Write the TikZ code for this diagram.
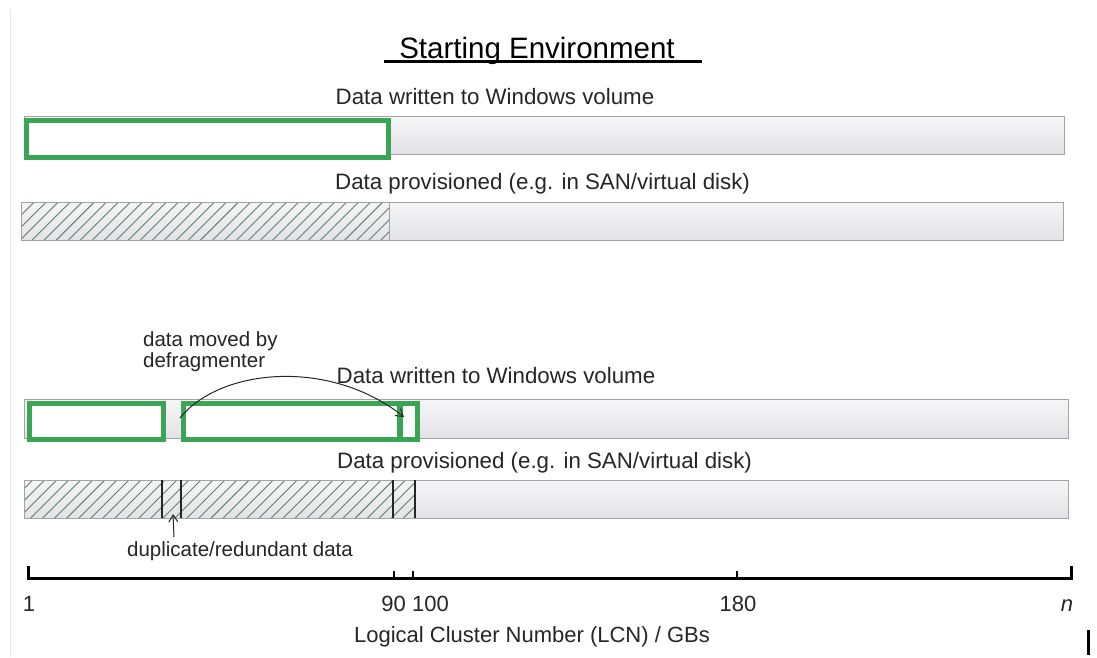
\documentclass[tikz,border=0pt]{standalone}
\usepackage{fontspec}
\setmainfont{Liberation Sans}
\usetikzlibrary{patterns.meta,arrows.meta}
\definecolor{grn}{HTML}{3AA655}
\definecolor{barfill}{HTML}{ECEBEF}
\definecolor{barline}{HTML}{A3A3A6}
\definecolor{hatch}{HTML}{5E8069}
\tikzset{
  bar/.style={draw=barline, line width=1.2pt, top color=barfill!50, bottom color=barfill!96!black, rectangle, inner sep=0pt, anchor=north west},
  greenbox/.style={draw=grn, line width=5.5pt, rectangle, inner sep=0pt, anchor=north west, fill=white},
  hatchbox/.style={draw=barline, line width=1pt, rectangle, inner sep=0pt, anchor=north west, fill=white,
     pattern={Lines[angle=45,distance=8.5pt,line width=0.9pt]}, pattern color=hatch},
  divider/.style={draw=black!85, line width=1.4pt},
  lbl/.style={font=\fontsize{22.3}{25}\selectfont, text=black!85, inner sep=0pt},
  small/.style={font=\fontsize{20.5}{23}\selectfont, text=black!85, inner sep=0pt},
  num/.style={font=\fontsize{22}{25}\selectfont, text=black!85, inner sep=0pt},
  axis/.style={line width=3pt, black},
  tickmark/.style={line width=2pt, black},
  barb/.style={-{Straight Barb[length=7pt,width=9pt]}, line width=1pt, black!85}
}
\begin{document}
\begin{tikzpicture}[x=1pt,y=-1pt]
\useasboundingbox (0,0) rectangle (1097,657);
\fill[white] (0,0) rectangle (1097,657);
% faint edge line
\draw[black!10, line width=1pt] (10,10) -- (10,657);

% title
\node[font=\fontsize{29.5}{32}\selectfont, inner sep=0pt, anchor=base] (title) at (537,58) {Starting Environment};
\draw[line width=3pt] (384,61) -- (702,61);

% ---- top section ----
\node[lbl, anchor=base] (l1) at (495,104) {Data written to Windows volume};
\node[bar, minimum width=1040pt, minimum height=38pt] (b1) at (24,116) {};
\node[greenbox, minimum width=362pt, minimum height=37pt] (g1) at (23.5,117.5) {};

\node[lbl, anchor=base west] (l2) at (335,189) {Data provisioned (e.g. in SAN/virtual disk)};
\node[bar, minimum width=1042pt, minimum height=38pt] (b2) at (21,202) {};
\node[hatchbox, minimum width=368pt, minimum height=38pt] (h1) at (21,202) {};

% ---- bottom section ----
\node[small, align=left, anchor=north west] (mv) at (143,331) {data moved by\\[-2pt]defragmenter};
\node[lbl, anchor=base] (l3) at (496,383) {Data written to Windows volume};
\node[bar, minimum width=1044pt, minimum height=39pt] (b3) at (24,399) {};
\node[greenbox, minimum width=134pt, minimum height=36pt] (g2) at (26.5,400.5) {};
\node[greenbox, minimum width=216.5pt, minimum height=36pt] (g3) at (180.5,400.5) {};
\node[greenbox, minimum width=17.5pt, minimum height=36pt] (g4) at (397,400.5) {};

\coordinate (mvs) at (180,418);
\coordinate (mve) at (404,417);
\draw[barb] (mvs) .. controls (220,368) and (330,358) .. (mve);

\node[lbl, anchor=base west] (l4) at (337,468) {Data provisioned (e.g. in SAN/virtual disk)};
\node[bar, minimum width=1044pt, minimum height=38pt] (b4) at (24,480) {};
\node[hatchbox, minimum width=391pt, minimum height=38pt] (h2) at (24,480) {};
\draw[divider] (162,480) -- (162,518);
\draw[divider] (181,480) -- (181,518);
\draw[divider] (393,480) -- (393,518);
\draw[divider] (415,480) -- (415,518);

\node[small, anchor=base] (dup) at (240,556) {duplicate/redundant data};
\coordinate (dupa) at (174,537);
\coordinate (dupb) at (173,514);
\draw[barb] (dupa) -- (dupb);

% ---- axis ----
\coordinate (ax0) at (28,578);
\coordinate (ax1) at (1071,578);
\draw[axis] (ax0) -- (ax1);
\draw[tickmark, line width=3pt] (28,579.5) -- (28,566);
\draw[tickmark, line width=3pt] (1071,579.5) -- (1071,566);
\draw[tickmark] (394,578) -- (394,571);
\draw[tickmark] (413,578) -- (413,571);
\draw[tickmark] (737,578) -- (737,571);

\node[num, anchor=base] (t1) at (29,611) {1};
\node[num, anchor=base east] (t90) at (406,611) {90};
\node[num, anchor=base west] (t100) at (412,611) {100};
\node[num, anchor=base] (t180) at (738,611) {180};
\node[num, anchor=base] (tn) at (1067,611) {\itshape n};

\node[font=\fontsize{22}{25}\selectfont, inner sep=0pt, text=black!85, anchor=base] (axl) at (532,642) {Logical Cluster Number (LCN) / GBs};

\draw[line width=3pt] (1088,630) -- (1088,655);
\end{tikzpicture}
\end{document}
